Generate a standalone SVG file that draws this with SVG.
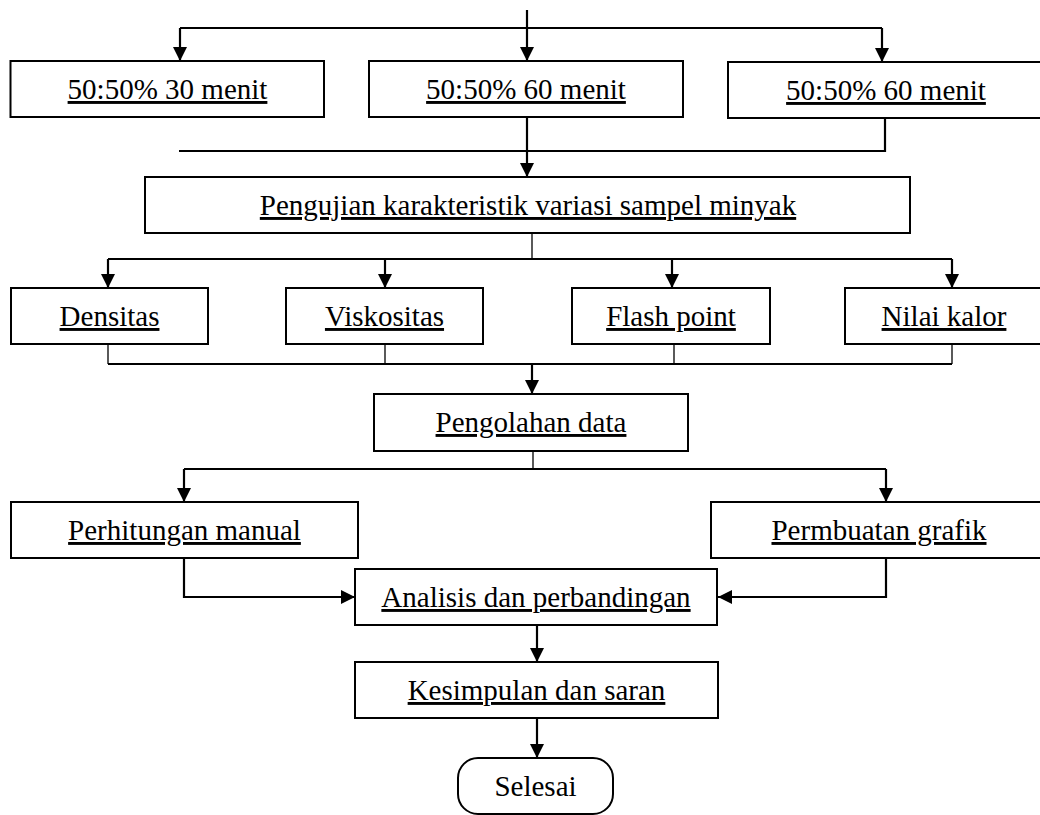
<svg xmlns="http://www.w3.org/2000/svg" width="1040" height="815" viewBox="0 0 1040 815">
<style>
.box{fill:#fff;stroke:#000;stroke-width:2}
.lbl{font-family:"Liberation Serif","Times New Roman",serif;font-size:29px;fill:#000;text-anchor:middle;text-decoration:underline}
.plain{text-decoration:none}
.c{fill:none;stroke:#000;stroke-width:2.2}
.t{fill:none;stroke:#000;stroke-width:1.3}
</style>
<defs>
<marker id="ah" markerUnits="userSpaceOnUse" markerWidth="15" markerHeight="14" refX="14" refY="7" orient="auto">
<path d="M0,0 L14,7 L0,14 z" fill="#000"/>
</marker>
</defs>
<g id="connectors">
<path class="c" d="M527,10 V61" marker-end="url(#ah)"/>
<path class="c" d="M180,28 H882"/>
<path class="c" d="M180,28 V61" marker-end="url(#ah)"/>
<path class="c" d="M882,28 V62" marker-end="url(#ah)"/>
<path class="c" d="M527,117 V177" marker-end="url(#ah)"/>
<path class="c" d="M885,118 V151 H179"/>
<path class="t" d="M532,233 V259"/>
<path class="c" d="M108,259 H952"/>
<path class="c" d="M108,259 V288" marker-end="url(#ah)"/>
<path class="c" d="M385,259 V288" marker-end="url(#ah)"/>
<path class="c" d="M672,259 V288" marker-end="url(#ah)"/>
<path class="c" d="M952,259 V288" marker-end="url(#ah)"/>
<path class="t" d="M108,344 V364"/>
<path class="t" d="M385,344 V364"/>
<path class="t" d="M674,344 V364"/>
<path class="t" d="M952,344 V364"/>
<path class="c" d="M108,364 H952"/>
<path class="c" d="M532,364 V394" marker-end="url(#ah)"/>
<path class="t" d="M533,451 V469"/>
<path class="c" d="M184,469 H886"/>
<path class="c" d="M184,469 V502" marker-end="url(#ah)"/>
<path class="c" d="M886,469 V502" marker-end="url(#ah)"/>
<path class="c" d="M184,558 V597 H355" marker-end="url(#ah)"/>
<path class="c" d="M886,558 V597 H718" marker-end="url(#ah)"/>
<path class="c" d="M537,625 V662" marker-end="url(#ah)"/>
<path class="c" d="M537,718 V758" marker-end="url(#ah)"/>
</g>
<g id="n1"><rect class="box" x="10.5" y="61" width="313.5" height="56"/><text class="lbl" x="167.5" y="99">50:50% 30 menit</text></g>
<g id="n2"><rect class="box" x="369" y="61" width="314" height="56"/><text class="lbl" x="526" y="99">50:50% 60 menit</text></g>
<g id="n3"><rect class="box" x="728" y="62" width="320" height="56"/><text class="lbl" x="886" y="100">50:50% 60 menit</text></g>
<g id="n4"><rect class="box" x="145" y="177" width="765" height="56"/><text class="lbl" x="528" y="215">Pengujian karakteristik variasi sampel minyak</text></g>
<g id="n5"><rect class="box" x="11" y="288" width="197" height="56"/><text class="lbl" x="109.5" y="326">Densitas</text></g>
<g id="n6"><rect class="box" x="286" y="288" width="197" height="56"/><text class="lbl" x="384.5" y="326">Viskositas</text></g>
<g id="n7"><rect class="box" x="572" y="288" width="198" height="56"/><text class="lbl" x="671" y="326">Flash point</text></g>
<g id="n8"><rect class="box" x="845" y="288" width="205" height="56"/><text class="lbl" x="944" y="326">Nilai kalor</text></g>
<g id="n9"><rect class="box" x="374" y="394" width="314" height="57"/><text class="lbl" x="531" y="432">Pengolahan data</text></g>
<g id="n10"><rect class="box" x="11" y="502" width="347" height="56"/><text class="lbl" x="184.5" y="540">Perhitungan manual</text></g>
<g id="n11"><rect class="box" x="711" y="502" width="340" height="56"/><text class="lbl" x="879" y="540">Permbuatan grafik</text></g>
<g id="n12"><rect class="box" x="355" y="569" width="362" height="56"/><text class="lbl" x="536" y="607">Analisis dan perbandingan</text></g>
<g id="n13"><rect class="box" x="355" y="662" width="363" height="56"/><text class="lbl" x="536.5" y="700">Kesimpulan dan saran</text></g>
<g id="n14"><rect class="box" x="458" y="758" width="155" height="56" rx="20" ry="20"/><text class="lbl plain" x="535.5" y="796">Selesai</text></g>
</svg>
